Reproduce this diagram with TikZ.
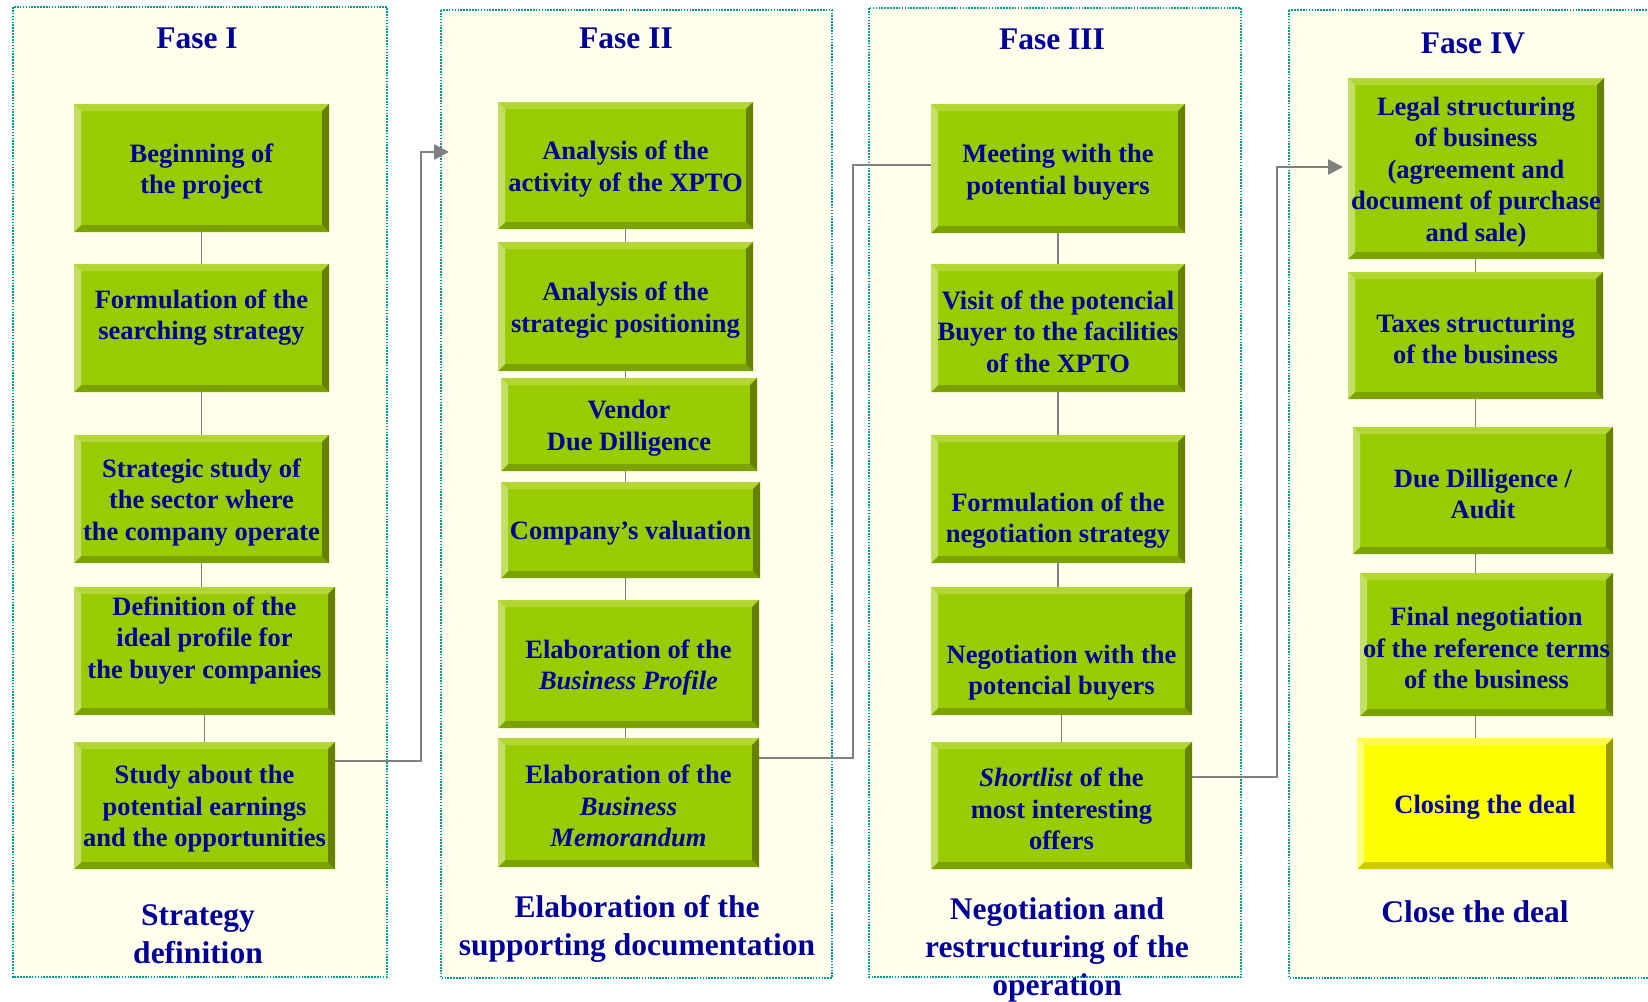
\documentclass[tikz,border=0pt]{standalone}
\usepackage{fontspec}
\setmainfont{Liberation Serif}
\usetikzlibrary{arrows.meta}
\definecolor{panelfill}{RGB}{255,255,235}
\definecolor{paneledge}{RGB}{0,153,153}
\definecolor{navy}{RGB}{0,0,153}
\definecolor{gmain}{RGB}{153,204,0}
\definecolor{gtop}{RGB}{178,214,51}
\definecolor{gleft}{RGB}{194,224,102}
\definecolor{gright}{RGB}{102,128,0}
\definecolor{gbot}{RGB}{122,163,0}
\definecolor{ymain}{RGB}{255,255,0}
\definecolor{ytop}{RGB}{255,255,64}
\definecolor{yleft}{RGB}{255,255,128}
\definecolor{yright}{RGB}{153,153,0}
\definecolor{ybot}{RGB}{204,204,0}
\definecolor{linkgray}{RGB}{128,128,128}
\newcommand\bevelparts[4]{%
  \fill[#1] (path picture bounding box.north west) -- (path picture bounding box.north east)
     -- ([xshift=-7pt,yshift=-7pt]path picture bounding box.north east)
     -- ([xshift=7pt,yshift=-7pt]path picture bounding box.north west) -- cycle;
  \fill[#4] (path picture bounding box.south west) -- (path picture bounding box.south east)
     -- ([xshift=-7pt,yshift=7pt]path picture bounding box.south east)
     -- ([xshift=7pt,yshift=7pt]path picture bounding box.south west) -- cycle;
  \fill[#2] (path picture bounding box.north west) -- (path picture bounding box.south west)
     -- ([xshift=7pt,yshift=7pt]path picture bounding box.south west)
     -- ([xshift=7pt,yshift=-7pt]path picture bounding box.north west) -- cycle;
  \fill[#3] (path picture bounding box.north east) -- (path picture bounding box.south east)
     -- ([xshift=-7pt,yshift=7pt]path picture bounding box.south east)
     -- ([xshift=-7pt,yshift=-7pt]path picture bounding box.north east) -- cycle;
}
\tikzset{
  panel/.style={fill=panelfill, draw=paneledge, line width=2pt, dash pattern=on 1.6pt off 1.3pt},
  boxbase/.style={rectangle, inner sep=0pt, outer sep=0pt},
  greenbox/.style={boxbase, fill=gmain, path picture={\bevelparts{gtop}{gleft}{gright}{gbot}}},
  yellowbox/.style={boxbase, fill=ymain, path picture={\bevelparts{ytop}{yleft}{yright}{ybot}}},
  boxtext/.style={text=navy, font=\bfseries\fontsize{26.5}{31.5}\selectfont, align=center, inner sep=0pt, yshift=-3.5pt},
  title/.style={text=navy, font=\bfseries\fontsize{31.5}{38}\selectfont, align=center, inner sep=0pt},
  vlink/.style={draw=linkgray, line width=1.8pt},
  plink/.style={draw=linkgray, line width=2.5pt},
  plinkarrow/.style={plink, -{Triangle[length=15pt,width=15pt]}},
}
\begin{document}
\begin{tikzpicture}[x=1pt,y=-1pt]
\useasboundingbox (0,0) rectangle (1648,1001);
\fill[white] (0,0) rectangle (1648,1001);
% panels
\draw[panel] (13,7) rectangle (387,977);
\draw[panel] (441,10) rectangle (832,978);
\draw[panel] (869,8) rectangle (1241,977);
\draw[panel] (1289,10) rectangle (1670,978);
% titles
\node[title] (f1) at (197,38) {Fase I};
\node[title] (f2) at (626,38) {Fase II};
\node[title] (f3) at (1052,39) {Fase III};
\node[title] (f4) at (1473,43) {Fase IV};
% bottom labels
\node[title] (l1) at (198,934) {Strategy\\definition};
\node[title] (l2) at (637,929) {Elaboration of the\\supporting documentation};
\node[title] (l3) at (1057,950) {Negotiation and\\restructuring of the\\operation};
\node[title] (l4) at (1475,912) {Close the deal};
% phase I
\node[greenbox, minimum width=255pt, minimum height=128pt, label={[boxtext]center:{Beginning of\\the project}}] (b11) at (201.5,168) {};
\node[greenbox, minimum width=255pt, minimum height=128pt, label={[boxtext,yshift=14pt]center:{Formulation of the\\searching strategy}}] (b12) at (201.5,328) {};
\node[greenbox, minimum width=255pt, minimum height=128pt, label={[boxtext]center:{Strategic study of\\the sector where\\the company operate}}] (b13) at (201.5,499) {};
\node[greenbox, minimum width=261pt, minimum height=128pt, label={[boxtext,yshift=14pt]center:{Definition of the\\ideal profile for\\the buyer companies}}] (b14) at (204.5,651) {};
\node[greenbox, minimum width=261pt, minimum height=127pt, label={[boxtext]center:{Study about the\\potential earnings\\and the opportunities}}] (b15) at (204.5,805.5) {};
% phase II
\node[greenbox, minimum width=255pt, minimum height=127pt, label={[boxtext]center:{Analysis of the\\activity of the XPTO}}] (b21) at (625.5,165.5) {};
\node[greenbox, minimum width=255pt, minimum height=129pt, label={[boxtext]center:{Analysis of the\\strategic positioning}}] (b22) at (625.5,306.5) {};
\node[greenbox, minimum width=256pt, minimum height=93pt, label={[boxtext]center:{Vendor\\Due Dilligence}}] (b23) at (629,424.5) {};
\node[greenbox, minimum width=259pt, minimum height=96pt, label={[boxtext]center:{Company’s valuation}}] (b24) at (630.5,530) {};
\node[greenbox, minimum width=261pt, minimum height=128pt, label={[boxtext]center:{Elaboration of the\\\textit{Business Profile}}}] (b25) at (628.5,664) {};
\node[greenbox, minimum width=261pt, minimum height=129pt, label={[boxtext]center:{Elaboration of the\\\textit{Business}\\\textit{Memorandum}}}] (b26) at (628.5,802.5) {};
% phase III
\node[greenbox, minimum width=254pt, minimum height=129pt, label={[boxtext]center:{Meeting with the\\potential buyers}}] (b31) at (1058,168.5) {};
\node[greenbox, minimum width=254pt, minimum height=128pt, label={[boxtext]center:{Visit of the potencial\\Buyer to the facilities\\of the XPTO}}] (b32) at (1058,328) {};
\node[greenbox, minimum width=254pt, minimum height=128pt, label={[boxtext,yshift=-18pt]center:{Formulation of the\\negotiation strategy}}] (b33) at (1058,499) {};
\node[greenbox, minimum width=261pt, minimum height=128pt, label={[boxtext,yshift=-18pt]center:{Negotiation with the\\potencial buyers}}] (b34) at (1061.5,651) {};
\node[greenbox, minimum width=261pt, minimum height=127pt, label={[boxtext]center:{\textit{Shortlist} of the\\most interesting\\offers}}] (b35) at (1061.5,805.5) {};
% phase IV
\node[greenbox, minimum width=256pt, minimum height=181pt, label={[boxtext]center:{Legal structuring\\of business\\(agreement and\\document of purchase\\and sale)}}] (b41) at (1476,168.5) {};
\node[greenbox, minimum width=255pt, minimum height=127pt, label={[boxtext]center:{Taxes structuring\\of the business}}] (b42) at (1475.5,335.5) {};
\node[greenbox, minimum width=260pt, minimum height=127pt, label={[boxtext]center:{Due Dilligence /\\Audit}}] (b43) at (1483,490.5) {};
\node[greenbox, minimum width=253pt, minimum height=143pt, label={[boxtext]center:{Final negotiation\\of the reference terms\\of the business}}] (b44) at (1486.5,644.5) {};
\node[yellowbox, minimum width=256pt, minimum height=131pt, label={[boxtext]center:{Closing the deal}}] (b45) at (1485,803.5) {};
% vertical connectors
\draw[vlink] (b11.south) -- (b11.south |- b12.north);
\draw[vlink] (b12.south) -- (b12.south |- b13.north);
\draw[vlink] (b13.south) -- (b13.south |- b14.north);
\draw[vlink] (b14.south) -- (b14.south |- b15.north);
\draw[vlink] (b21.south) -- (b21.south |- b22.north);
\draw[vlink] (b22.south) -- (b22.south |- b23.north);
\draw[vlink] (b23.south -| b22.south) -- (b22.south |- b24.north);
\draw[vlink] (b24.south -| b22.south) -- (b22.south |- b25.north);
\draw[vlink] (b25.south -| b22.south) -- (b22.south |- b26.north);
\draw[vlink] (b31.south) -- (b31.south |- b32.north);
\draw[vlink] (b32.south) -- (b32.south |- b33.north);
\draw[vlink] (b33.south) -- (b33.south |- b34.north);
\draw[vlink] (b34.south) -- (b34.south |- b35.north);
\draw[vlink] (b41.south -| b42.south) -- (b42.north);
\draw[vlink] (b42.south) -- (b42.south |- b43.north);
\draw[vlink] (b43.south -| b42.south) -- (b42.south |- b44.north);
\draw[vlink] (b44.south -| b42.south) -- (b42.south |- b45.north);
% phase links
\coordinate (k1) at (421,152);
\coordinate (t1) at (449,152);
\draw[plinkarrow] ([yshift=44.5pt]b15.east) -| (k1) -- (t1);
\coordinate (k2) at (853,165);
\draw[plink] ([yshift=44.5pt]b26.east) -| (k2) -- (k2 -| b31.west);
\coordinate (k3) at (1277,167);
\draw[plinkarrow, shorten >=5pt] ([yshift=28.5pt]b35.east) -| (k3) -- (k3 -| b41.west);
\end{tikzpicture}
\end{document}
